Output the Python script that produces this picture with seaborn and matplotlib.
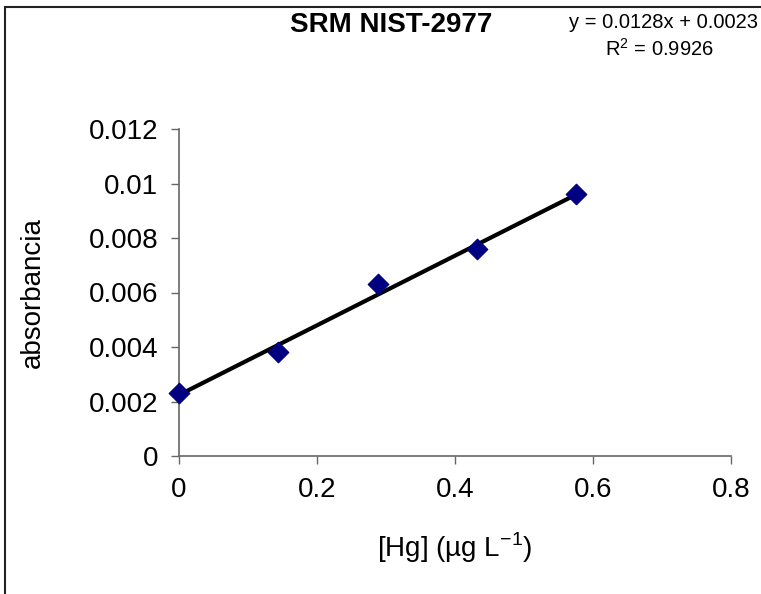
import numpy as np
import matplotlib.pyplot as plt
import seaborn as sns
from matplotlib.patches import Rectangle

# Data
hg = [0.0, 0.144, 0.288, 0.432, 0.576]
absorb = [0.0023, 0.0038, 0.0063, 0.0076, 0.0096]
xticks = [0, 0.2, 0.4, 0.6, 0.8]
xticklabels = ["0", "0.2", "0.4", "0.6", "0.8"]
yticks = [0, 0.002, 0.004, 0.006, 0.008, 0.01, 0.012]
yticklabels = ["0", "0.002", "0.004", "0.006", "0.008", "0.01", "0.012"]

sns.set_style("white")
plt.rcParams["font.family"] = ["Liberation Sans", "DejaVu Sans"]
plt.rcParams["text.color"] = "black"
plt.rcParams["axes.labelcolor"] = "black"

fig = plt.figure(figsize=(7.61, 5.94), dpi=100)
ax = fig.add_axes([179 / 761, 1 - 456 / 594, 552 / 761, 327 / 594])

# trend line from the data
slope, inter = np.polyfit(hg, absorb, 1)
xl = np.array([hg[0], hg[-1]])
ax.plot(xl, slope * xl + inter, color="black", lw=3, zorder=2)

sns.scatterplot(x=hg, y=absorb, marker="D", s=110, color="#000080",
                edgecolor="#000080", ax=ax, zorder=3, clip_on=False)

ax.set_xlim(0, 0.8)
ax.set_ylim(0, 0.012)
ax.set_xticks(xticks)
ax.set_xticklabels(xticklabels)
ax.set_yticks(yticks)
ax.set_yticklabels(yticklabels)
ax.tick_params(axis="both", labelsize=20, length=6, width=1, color="#666666",
               labelcolor="black", direction="out", left=True, bottom=True)
ax.tick_params(axis="x", pad=9)
ax.tick_params(axis="y", pad=9)
for s in ["top", "right"]:
    ax.spines[s].set_visible(False)
for s in ["left", "bottom"]:
    ax.spines[s].set_color("#666666")
    ax.spines[s].set_linewidth(1.2)

ax.set_xlabel("[Hg] (µg L$^{\\mathregular{-1}}$)", fontsize=20, va="center")
ax.set_ylabel("absorbancia", fontsize=20, va="center")
ax.xaxis.set_label_coords((455 - 179) / 552, (456 - 548) / 327)
ax.yaxis.set_label_coords((33 - 179) / 552, 0.5)

fig.text(391 / 761, 1 - 25 / 594, "SRM NIST-2977", fontsize=20,
         fontweight="bold", ha="center", va="center")
fig.text(758 / 761, 1 - 22 / 594, "y = 0.0128x + 0.0023", fontsize=14.5,
         ha="right", va="center")
fig.text(659 / 761, 1 - 49 / 594, "R$^{\\mathregular{2}}$ = 0.9926", fontsize=14.5,
         ha="center", va="center")

# chart area border (cropped on right and bottom)
fig.patches.append(Rectangle((5 / 761, -0.1), 1.2, 1 - 7 / 594 + 0.1,
                             transform=fig.transFigure, fill=False,
                             edgecolor="#222222", lw=1.5))

fig.savefig("out.png", dpi=100)
